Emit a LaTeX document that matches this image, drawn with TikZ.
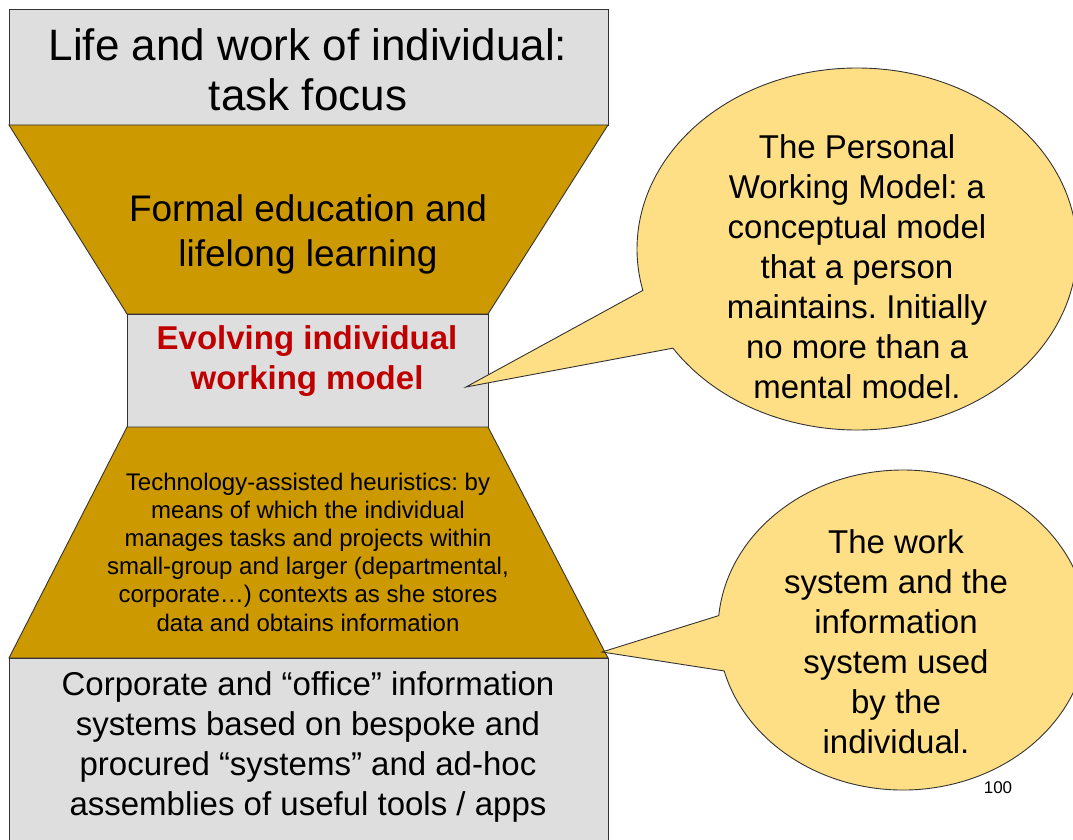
\documentclass[tikz,border=0pt]{standalone}
\usepackage{fontspec}
\setmainfont{Liberation Sans}
\usetikzlibrary{shapes.callouts}
\definecolor{funnelgold}{RGB}{204,153,0}
\definecolor{boxgray}{RGB}{222,222,222}
\definecolor{bubbleyellow}{RGB}{255,223,133}
\definecolor{modelred}{RGB}{192,0,0}
\frenchspacing

\begin{document}
\begin{tikzpicture}[
    x=1pt, y=-1pt,
    outline/.style={draw=black!80, line width=0.9pt},
    graybox/.style={outline, fill=boxgray},
    funnel/.style={outline, fill=funnelgold},
    bubble/.style={ellipse callout, outline, fill=bubbleyellow, callout pointer arc=20, inner sep=0pt},
    label/.style={align=center, inner sep=0pt}
]
    \useasboundingbox (0,0) rectangle (1073,840);

    % Stacked levels
    \draw[graybox] (9,9) rectangle (608,125);
    \draw[funnel] (9,125) -- (608,125) -- (488,314) -- (127,314) -- cycle;
    \draw[graybox] (127,314) rectangle (488,427);
    \draw[funnel] (127,427) -- (488,427) -- (608,658) -- (9,658) -- cycle;
    \draw[graybox] (9,658) rectangle (608,850);

    % Texts of the levels
    \node[label, font=\fontsize{44}{50}\selectfont] (task) at (308,70) {Life and work of individual:\\task focus};
    \node[label, font=\fontsize{37}{45}\selectfont] (learning) at (308,234) {Formal education and\\lifelong learning};
    \node[label, font=\fontsize{33}{40}\selectfont\bfseries, text=modelred] (model) at (307,361)
        {Evolving individual\\working model};
    \node[label, font=\fontsize{24}{28.2}\selectfont] (heuristics) at (308,552)
        {Technology-assisted heuristics: by\\means of which the individual\\manages tasks and projects within\\small-group and larger (departmental,\\corporate\dots) contexts as she stores\\data and obtains information};
    \node[label, font=\fontsize{33}{40}\selectfont] (systems) at (308,747)
        {Corporate and “office” information\\systems based on bespoke and\\procured “systems” and ad-hoc\\assemblies of useful tools / apps};

    % Pointer tips
    \coordinate (tipmodel) at (466,387);
    \coordinate (tipsystems) at (602,652);

    % Callouts
    \node[bubble, minimum width=440pt, minimum height=362pt, callout absolute pointer={(tipmodel)}] (pwm) at (857,249) {};
    \node[label, font=\fontsize{33}{40}\selectfont] (pwmtext) at (857,267)
        {The Personal\\Working Model: a\\conceptual model\\that a person\\maintains. Initially\\no more than a\\mental model.};
    \node[bubble, minimum width=370pt, minimum height=320pt, callout absolute pointer={(tipsystems)}] (worksys) at (903,630) {};
    \node[label, font=\fontsize{33}{40}\selectfont] (worksystext) at (896,642)
        {The work\\system and the\\information\\system used\\by the\\individual.};

    \node[font=\fontsize{17}{20}\selectfont] (page) at (998,788) {100};
\end{tikzpicture}
\end{document}
